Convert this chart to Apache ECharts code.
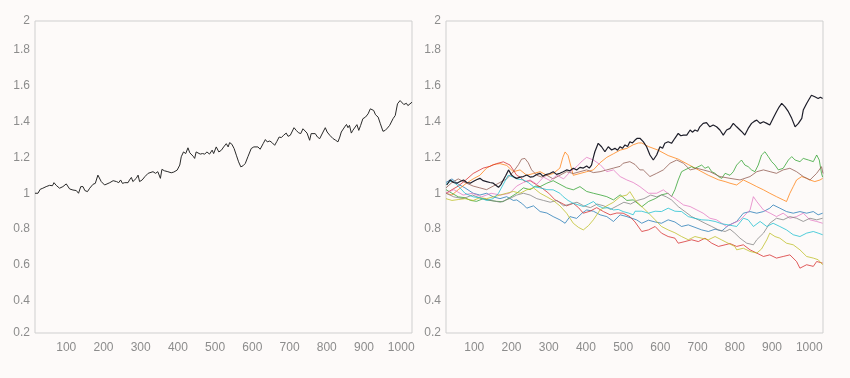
<!DOCTYPE html>
<html><head><meta charset="utf-8">
<script src="https://cdn.jsdelivr.net/npm/echarts@6/dist/echarts.min.js"></script>
<style>html,body{margin:0;padding:0;background:#fdfaf9;}#c{width:850px;height:378px;}</style>
</head><body><div id="c"></div>
<script>
// axis extents
const yRange = [0.222, 1.959];
const xRangeLeft = [16, 1029];
const xRangeRight = [24, 1037];

// left panel: single walk
const leftWalk = [[16,1.000],[24,1.000],[30,1.022],[37,1.028],[42,1.024],[46,1.037],[55,1.044],[63,1.042],[67,1.059],[73,1.044],[82,1.028],[91,1.037],[100,1.052],[105,1.048],[109,1.024],[118,1.018],[127,1.015],[133,1.000],[139,1.037],[145,1.037],[150,1.015],[157,1.009],[163,1.028],[172,1.050],[178,1.055],[185,1.101],[190,1.092],[194,1.065],[203,1.046],[208,1.042],[217,1.059],[226,1.070],[235,1.065],[241,1.059],[246,1.074],[251,1.055],[257,1.059],[261,1.065],[266,1.059],[270,1.074],[275,1.088],[279,1.065],[284,1.074],[288,1.083],[293,1.101],[297,1.065],[304,1.074],[311,1.092],[315,1.101],[320,1.111],[324,1.114],[333,1.120],[340,1.111],[346,1.120],[353,1.083],[357,1.133],[364,1.125],[373,1.120],[382,1.114],[389,1.118],[393,1.111],[398,1.129],[405,1.157],[409,1.203],[415,1.230],[421,1.221],[427,1.253],[432,1.225],[436,1.230],[441,1.206],[445,1.194],[449,1.230],[454,1.240],[460,1.218],[466,1.221],[472,1.218],[478,1.230],[485,1.218],[492,1.240],[496,1.221],[503,1.258],[510,1.230],[517,1.240],[523,1.258],[530,1.276],[535,1.258],[539,1.282],[545,1.273],[551,1.249],[557,1.212],[563,1.175],[569,1.147],[575,1.153],[581,1.166],[588,1.203],[593,1.212],[597,1.249],[604,1.258],[609,1.249],[615,1.258],[621,1.245],[629,1.276],[635,1.299],[640,1.286],[647,1.291],[654,1.280],[660,1.267],[666,1.289],[672,1.313],[678,1.310],[684,1.323],[691,1.335],[696,1.317],[702,1.323],[706,1.332],[712,1.365],[718,1.350],[724,1.337],[730,1.332],[736,1.359],[741,1.350],[747,1.335],[754,1.295],[758,1.332],[763,1.323],[769,1.332],[775,1.313],[781,1.304],[790,1.341],[796,1.365],[801,1.341],[808,1.323],[817,1.304],[824,1.295],[830,1.286],[835,1.313],[839,1.341],[844,1.332],[848,1.369],[853,1.383],[857,1.365],[861,1.378],[866,1.335],[870,1.350],[875,1.359],[881,1.382],[886,1.350],[891,1.378],[897,1.415],[904,1.424],[911,1.442],[917,1.470],[922,1.479],[926,1.461],[931,1.437],[938,1.424],[944,1.387],[951,1.345],[957,1.350],[963,1.363],[969,1.378],[973,1.387],[978,1.415],[984,1.433],[990,1.498],[997,1.516],[1001,1.524],[1007,1.494],[1010,1.483],[1014,1.501],[1018,1.488],[1023,1.498],[1029,1.507]];

// right panel walks
const blackWalk = [[26,1.046],[35,1.074],[44,1.06],[53,1.056],[62,1.065],[71,1.074],[80,1.06],[89,1.056],[97,1.065],[106,1.075],[115,1.083],[124,1.07],[133,1.065],[142,1.06],[151,1.056],[158,1.045],[165,1.033],[172,1.05],[178,1.074],[185,1.10],[192,1.130],[200,1.102],[207,1.09],[214,1.083],[223,1.09],[232,1.093],[241,1.102],[250,1.09],[259,1.093],[268,1.105],[277,1.111],[284,1.095],[290,1.102],[303,1.11],[312,1.120],[321,1.105],[330,1.111],[339,1.12],[348,1.130],[357,1.125],[366,1.139],[375,1.13],[384,1.144],[393,1.14],[402,1.152],[409,1.14],[415,1.157],[420,1.2],[424,1.231],[433,1.278],[442,1.259],[451,1.231],[460,1.259],[469,1.241],[478,1.250],[485,1.24],[492,1.259],[498,1.25],[505,1.269],[512,1.26],[518,1.287],[525,1.28],[532,1.296],[538,1.306],[545,1.306],[554,1.287],[563,1.259],[572,1.213],[581,1.185],[590,1.213],[599,1.259],[606,1.25],[612,1.278],[621,1.287],[630,1.278],[639,1.306],[648,1.333],[655,1.32],[662,1.324],[671,1.324],[680,1.352],[686,1.34],[693,1.352],[700,1.345],[706,1.370],[715,1.389],[724,1.393],[733,1.370],[742,1.380],[751,1.370],[760,1.352],[769,1.324],[778,1.352],[787,1.361],[796,1.389],[805,1.370],[814,1.352],[820,1.34],[827,1.324],[836,1.361],[845,1.389],[852,1.40],[859,1.407],[868,1.389],[877,1.398],[886,1.389],[894,1.380],[903,1.417],[912,1.454],[919,1.48],[926,1.5],[935,1.481],[944,1.454],[953,1.417],[962,1.370],[971,1.389],[980,1.417],[984,1.463],[993,1.5],[1000,1.525],[1006,1.546],[1015,1.537],[1024,1.528],[1030,1.535],[1036,1.528]];

const orangeWalk = [[24,1.0],[40,0.99],[57,1.02],[75,1.05],[97,1.08],[115,1.10],[133,1.14],[151,1.16],[169,1.165],[187,1.155],[205,1.12],[223,1.13],[241,1.10],[259,1.11],[277,1.12],[295,1.10],[312,1.11],[330,1.14],[338,1.20],[344,1.23],[352,1.21],[366,1.10],[384,1.11],[402,1.12],[420,1.13],[438,1.17],[456,1.20],[474,1.22],[492,1.24],[510,1.25],[527,1.27],[541,1.28],[550,1.28],[568,1.26],[594,1.24],[621,1.21],[648,1.19],[675,1.16],[702,1.13],[729,1.10],[756,1.075],[774,1.065],[787,1.056],[805,1.046],[823,1.074],[841,1.056],[859,1.037],[877,1.019],[894,1.0],[912,0.981],[930,0.963],[939,0.954],[948,1.0],[957,1.037],[966,1.074],[980,1.093],[993,1.083],[1002,1.074],[1015,1.065],[1029,1.074],[1036,1.083]];

const redWalk = [[24,1.0],[40,1.02],[57,1.04],[75,1.07],[97,1.11],[115,1.13],[124,1.14],[142,1.15],[160,1.165],[178,1.175],[196,1.157],[214,1.10],[223,1.09],[236,1.065],[250,1.07],[265,1.05],[281,1.03],[300,1.0],[317,0.963],[330,0.95],[348,0.93],[366,0.944],[380,0.92],[393,0.889],[411,0.90],[429,0.92],[447,0.898],[465,0.88],[483,0.89],[500,0.889],[518,0.87],[532,0.84],[550,0.787],[568,0.796],[586,0.815],[603,0.778],[621,0.759],[639,0.75],[648,0.722],[666,0.731],[684,0.741],[702,0.731],[720,0.75],[738,0.722],[756,0.704],[774,0.713],[787,0.72],[805,0.704],[823,0.713],[841,0.685],[859,0.667],[877,0.648],[894,0.657],[912,0.639],[930,0.648],[948,0.657],[966,0.62],[975,0.583],[993,0.602],[1011,0.593],[1020,0.62],[1036,0.611]];

const greenWalk = [[24,1.02],[40,1.0],[57,0.98],[75,0.975],[90,0.96],[106,0.955],[124,0.97],[142,0.96],[160,0.955],[177,0.953],[195,0.975],[214,1.0],[232,1.03],[250,1.02],[265,1.04],[277,1.037],[295,1.056],[312,1.07],[330,1.05],[348,1.03],[366,1.019],[384,1.037],[402,1.01],[420,1.0],[438,0.991],[456,0.981],[474,0.963],[492,0.991],[510,0.96],[527,0.963],[541,0.94],[550,0.925],[568,0.954],[586,0.97],[603,0.991],[621,1.0],[630,0.981],[639,1.019],[648,1.074],[657,1.12],[666,1.13],[675,1.139],[684,1.148],[693,1.139],[711,1.157],[720,1.139],[729,1.148],[738,1.12],[747,1.111],[756,1.093],[765,1.083],[774,1.111],[787,1.10],[796,1.12],[805,1.157],[818,1.185],[827,1.157],[836,1.148],[845,1.13],[854,1.12],[863,1.157],[872,1.213],[881,1.231],[890,1.204],[899,1.176],[908,1.157],[917,1.13],[930,1.139],[944,1.185],[953,1.204],[962,1.185],[975,1.176],[984,1.194],[998,1.185],[1011,1.176],[1020,1.213],[1027,1.185],[1033,1.111],[1036,1.09]];

const brownWalk = [[24,1.03],[40,1.06],[57,1.08],[75,1.06],[97,1.04],[115,1.03],[133,1.02],[151,1.04],[169,1.06],[187,1.08],[205,1.12],[219,1.16],[227,1.19],[236,1.194],[245,1.17],[254,1.13],[268,1.10],[281,1.09],[295,1.10],[312,1.08],[330,1.10],[348,1.12],[366,1.11],[384,1.12],[402,1.13],[420,1.115],[438,1.12],[456,1.13],[474,1.14],[492,1.15],[500,1.167],[518,1.176],[532,1.16],[545,1.13],[554,1.13],[572,1.093],[590,1.111],[608,1.13],[626,1.167],[644,1.185],[662,1.167],[680,1.13],[698,1.139],[715,1.13],[733,1.12],[760,1.093],[787,1.083],[814,1.074],[841,1.093],[859,1.12],[877,1.13],[895,1.12],[912,1.111],[930,1.13],[948,1.139],[966,1.12],[984,1.093],[1002,1.074],[1020,1.111],[1033,1.148],[1037,1.11]];

const pinkWalk = [[24,1.0],[45,1.02],[70,0.99],[95,1.0],[120,0.98],[145,1.0],[170,0.99],[195,1.0],[214,1.04],[232,1.06],[250,1.074],[268,1.05],[286,1.09],[304,1.07],[322,1.10],[340,1.08],[358,1.12],[376,1.15],[390,1.18],[402,1.20],[420,1.185],[438,1.16],[456,1.12],[474,1.13],[492,1.093],[510,1.074],[527,1.06],[545,1.037],[568,1.0],[590,1.0],[608,1.019],[626,0.99],[644,0.963],[662,0.935],[680,0.926],[698,0.907],[715,0.889],[733,0.861],[751,0.852],[778,0.815],[796,0.833],[814,0.85],[832,0.889],[841,0.907],[850,0.981],[859,0.954],[877,0.907],[895,0.889],[912,0.87],[930,0.889],[948,0.861],[966,0.87],[984,0.889],[1002,0.852],[1020,0.843],[1036,0.833]];

const blueWalk = [[24,1.06],[40,1.08],[57,1.05],[75,1.03],[97,1.0],[115,0.99],[133,1.0],[151,0.98],[169,0.97],[187,0.981],[205,0.96],[214,0.963],[230,0.94],[241,0.917],[259,0.93],[277,0.898],[295,0.89],[312,0.87],[330,0.852],[344,0.833],[357,0.87],[375,0.86],[390,0.89],[402,0.907],[420,0.90],[438,0.88],[456,0.87],[474,0.843],[492,0.88],[510,0.87],[536,0.852],[550,0.833],[568,0.85],[586,0.84],[603,0.833],[621,0.852],[639,0.84],[657,0.815],[675,0.824],[693,0.81],[711,0.796],[729,0.787],[747,0.80],[765,0.79],[782,0.82],[787,0.83],[805,0.843],[823,0.889],[841,0.898],[859,0.889],[877,0.898],[894,0.917],[903,0.935],[921,0.917],[939,0.898],[957,0.889],[975,0.898],[993,0.889],[1011,0.898],[1024,0.88],[1036,0.889]];

const cyanWalk = [[24,1.05],[40,1.07],[57,1.04],[75,1.0],[97,0.98],[115,0.975],[133,0.96],[151,0.97],[165,1.0],[178,1.05],[191,1.10],[205,1.09],[214,1.08],[232,1.074],[245,1.06],[259,1.037],[277,1.03],[295,1.02],[312,1.019],[330,1.0],[339,0.981],[352,0.96],[366,0.944],[380,0.935],[393,0.926],[407,0.94],[420,0.954],[433,0.93],[447,0.917],[460,0.92],[474,0.907],[487,0.91],[500,0.898],[514,0.89],[527,0.88],[532,0.90],[550,0.90],[568,0.889],[586,0.90],[603,0.898],[621,0.917],[639,0.90],[657,0.898],[675,0.87],[693,0.86],[711,0.852],[729,0.85],[747,0.843],[765,0.83],[782,0.824],[787,0.833],[805,0.815],[823,0.861],[836,0.852],[850,0.815],[868,0.843],[886,0.815],[903,0.833],[921,0.815],[939,0.796],[957,0.769],[975,0.759],[993,0.778],[1011,0.787],[1024,0.778],[1036,0.769]];

const grayWalk = [[24,1.0],[45,0.98],[70,0.97],[95,0.99],[120,0.97],[145,0.96],[170,0.95],[195,0.97],[214,0.99],[232,1.0],[250,0.99],[268,0.97],[286,0.96],[304,0.95],[322,0.96],[340,0.93],[358,0.94],[376,0.95],[394,0.93],[412,0.92],[430,0.94],[448,0.93],[466,0.91],[484,0.93],[502,0.95],[520,0.94],[538,0.96],[556,0.97],[574,0.99],[590,0.98],[603,0.991],[616,0.98],[630,0.963],[648,0.926],[666,0.898],[684,0.87],[702,0.852],[720,0.833],[738,0.815],[756,0.796],[774,0.787],[787,0.8],[800,0.778],[814,0.75],[832,0.722],[850,0.713],[859,0.741],[877,0.778],[894,0.833],[912,0.861],[930,0.852],[948,0.87],[966,0.861],[984,0.843],[1002,0.861],[1020,0.852],[1036,0.861]];

const oliveWalk = [[24,0.97],[40,0.96],[57,0.965],[75,0.97],[97,0.96],[115,0.975],[133,0.97],[151,0.98],[169,0.99],[187,1.0],[205,1.01],[223,1.0],[241,1.019],[259,1.03],[277,1.0],[295,0.98],[312,0.96],[330,0.93],[348,0.889],[366,0.833],[380,0.81],[393,0.796],[407,0.82],[420,0.852],[438,0.907],[456,0.93],[474,0.95],[492,0.981],[510,0.99],[518,1.009],[532,0.963],[550,0.926],[568,0.89],[586,0.852],[603,0.815],[621,0.796],[639,0.78],[657,0.759],[675,0.741],[693,0.759],[711,0.75],[729,0.741],[747,0.759],[765,0.74],[782,0.722],[800,0.704],[805,0.685],[823,0.694],[841,0.676],[859,0.667],[872,0.69],[886,0.741],[894,0.778],[908,0.759],[921,0.75],[939,0.722],[957,0.713],[975,0.685],[993,0.648],[1011,0.639],[1024,0.63],[1036,0.602]];

const rightWalks = [
  {name: 'blue', data: blueWalk, color: '#1f77b4'},
  {name: 'orange', data: orangeWalk, color: '#ff7f0e'},
  {name: 'green', data: greenWalk, color: '#2ca02c'},
  {name: 'red', data: redWalk, color: '#d62728'},
  {name: 'brown', data: brownWalk, color: '#8c564b'},
  {name: 'pink', data: pinkWalk, color: '#e377c2'},
  {name: 'gray', data: grayWalk, color: '#7f7f7f'},
  {name: 'olive', data: oliveWalk, color: '#bcbd22'},
  {name: 'cyan', data: cyanWalk, color: '#17becf'}
];

const labelColor = '#8c8c8c';
const fontFamily = "'Liberation Sans', Arial, sans-serif";
function yAxis(gi) {
  return {
    type: 'value', gridIndex: gi, min: yRange[0], max: yRange[1], splitNumber: 9,
    axisLine: {show: false}, axisTick: {show: false}, splitLine: {show: false},
    axisLabel: {color: labelColor, fontSize: 12, fontFamily, margin: 5,
      formatter: v => String(Math.round(v * 10) / 10)}
  };
}
function xAxis(gi, r) {
  return {
    type: 'value', gridIndex: gi, min: r[0], max: r[1], splitNumber: 10,
    axisLine: {show: false}, axisTick: {show: false}, splitLine: {show: false},
    axisLabel: {color: labelColor, fontSize: 12, fontFamily, margin: 9,
      showMinLabel: false, showMaxLabel: false,
      formatter: v => (v % 100 === 0 ? String(v) : '')}
  };
}

const series = [{
  type: 'line', xAxisIndex: 0, yAxisIndex: 0, data: leftWalk, showSymbol: false,
  lineStyle: {color: '#2a2a2a', width: 1}, silent: true
}];
rightWalks.forEach(w => series.push({
  type: 'line', name: w.name, xAxisIndex: 1, yAxisIndex: 1, data: w.data, showSymbol: false,
  lineStyle: {color: w.color, width: 1, opacity: 0.75}, silent: true
}));
series.push({
  type: 'line', xAxisIndex: 1, yAxisIndex: 1, data: blackWalk, showSymbol: false,
  lineStyle: {color: '#1e1e2a', width: 1.2}, silent: true
});

const chart = echarts.init(document.getElementById('c'), null, {renderer: 'canvas'});
chart.setOption({
  backgroundColor: '#fdfaf9',
  animation: false,
  grid: [
    {left: 35, top: 21, width: 377, height: 312, show: true, borderColor: '#cfcfcf', borderWidth: 1, backgroundColor: 'transparent'},
    {left: 446, top: 21, width: 377, height: 312, show: true, borderColor: '#cfcfcf', borderWidth: 1, backgroundColor: 'transparent'}
  ],
  xAxis: [xAxis(0, xRangeLeft), xAxis(1, xRangeRight)],
  yAxis: [yAxis(0), yAxis(1)],
  series
});
</script>
</body></html>
